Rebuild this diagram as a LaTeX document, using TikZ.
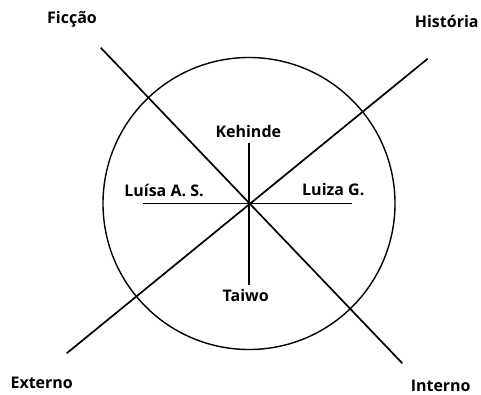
\documentclass[tikz,border=0pt]{standalone}
\usepackage{fontspec}
\setmainfont{Open Sans}
\usepackage{tikz}

\begin{document}
\begin{tikzpicture}[x=1pt,y=1pt,axis/.style={line width=1.7pt,line cap=butt},lbl/.style={font=\fontsize{16}{19}\bfseries,inner sep=0pt}]
\useasboundingbox (0,0) rectangle (481,394);
\coordinate (c) at (249,190.5);
\draw[line width=1.4pt] (c) circle (146);
% axes
\coordinate (ficEnd) at (100.7,346.3);
\coordinate (intEnd) at (402.3,30.7);
\coordinate (extEnd) at (66.7,40.7);
\coordinate (hisEnd) at (427.7,335.3);
\coordinate (kehEnd) at (249,251);
\coordinate (taiEnd) at (249,109);
\coordinate (lasEnd) at (143,190.5);
\coordinate (lgEnd) at (352,190.5);
\draw[axis] (ficEnd) -- (intEnd);
\draw[axis] (extEnd) -- (hisEnd);
\draw[axis] (kehEnd) -- (taiEnd);
\draw[axis] (lasEnd) -- (lgEnd);
% labels
\node[lbl] (fic) at (72,375) {Ficção};
\node[lbl] (his) at (446.7,373) {História};
\node[lbl] (ext) at (41.7,10.7) {Externo};
\node[lbl] (int) at (440.7,8) {Interno};
\node[lbl] (keh) at (248.3,262.3) {Kehinde};
\node[lbl] (tai) at (245.7,99) {Taiwo};
\node[lbl] (las) at (164,204) {Luísa A. S.};
\node[lbl] (lg) at (333.3,204.7) {Luiza G.};
\end{tikzpicture}
\end{document}
